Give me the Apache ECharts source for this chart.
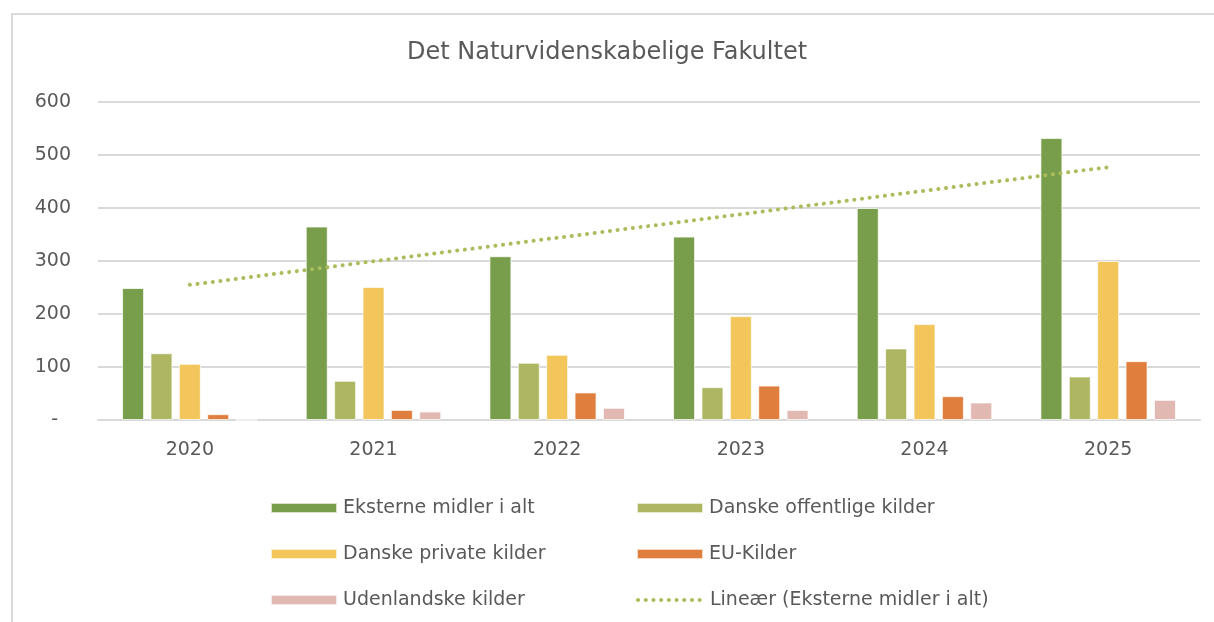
<!DOCTYPE html>
<html>
<head>
<meta charset="utf-8">
<script src="https://cdn.jsdelivr.net/npm/echarts@6/dist/echarts.min.js"></script>
<style>
html,body{margin:0;padding:0;background:#fff;}
#chart{width:1214px;height:622px;}
</style>
</head>
<body>
<div id="chart"></div>
<script>
const title = 'Det Naturvidenskabelige Fakultet';
const years = ['2020', '2021', '2022', '2023', '2024', '2025'];
const seriesNames = ['Eksterne midler i alt', 'Danske offentlige kilder', 'Danske private kilder', 'EU-Kilder', 'Udenlandske kilder'];
const eksterne = [249, 365, 309, 346, 400, 532];
const offentlige = [126, 74, 108, 62, 135, 82];
const private_ = [106, 251, 123, 196, 181, 300];
const eu = [11, 19, 52, 65, 45, 111];
const udenlandske = [0, 16, 23, 19, 33, 38];
const trendName = 'Lineær (Eksterne midler i alt)';
const trendEnds = [255, 477]; // at 2020 and 2025
const yTicks = [0, 100, 200, 300, 400, 500, 600];

const colors = ['#799e4b', '#aeb662', '#f2c65b', '#e07f3d', '#e1b8b2'];
const trendColor = '#a9bd5c';
const textColor = '#595959';
const font = 'DejaVu Sans';

const values = [eksterne, offentlige, private_, eu, udenlandske];
const trendData = years.map((y, i) => i === 0 ? trendEnds[0] : (i === years.length - 1 ? trendEnds[1] : null));

const barSeries = seriesNames.map((n, i) => ({
  name: n,
  type: 'bar',
  data: values[i],
  barWidth: 22,
  barGap: '29%',
  itemStyle: { color: colors[i], borderColor: 'rgba(255,255,255,0.7)', borderWidth: 1 },
  emphasis: { disabled: true },
  silent: true
}));

const trendLineStyle = { color: trendColor, width: 4, type: [0.1, 7.6], cap: 'round' };
const lineSeries = {
  name: trendName,
  type: 'line',
  data: trendData,
  connectNulls: true,
  symbol: 'none',
  showSymbol: false,
  lineStyle: trendLineStyle,
  itemStyle: { color: trendColor },
  z: 5,
  silent: true
};

// legend layout: two columns, three rows
const legendOrder = [seriesNames[0], seriesNames[1], seriesNames[2], seriesNames[3], seriesNames[4], trendName];
const colX = [265, 631];
const rowY = [493, 539, 585];
const legends = legendOrder.map((n, i) => {
  const l = {
    data: [n === trendName ? { name: n, itemStyle: { opacity: 0 } } : { name: n, icon: 'rect' }],
    left: colX[i % 2],
    top: rowY[Math.floor(i / 2)],
    itemWidth: 66,
    itemHeight: 10,
    itemGap: 0,
    selectedMode: false,
    textStyle: { color: textColor, fontFamily: font, fontSize: 19, lineHeight: 20, padding: [0, 0, 0, 1] }
  };
  if (n === trendName) l.lineStyle = trendLineStyle;
  return l;
});

const chart = echarts.init(document.getElementById('chart'), null, { renderer: 'canvas' });
chart.setOption({
  animation: false,
  backgroundColor: '#fff',
  title: {
    text: title,
    left: 'center',
    top: 36,
    textStyle: { color: textColor, fontFamily: font, fontSize: 24, fontWeight: 'normal' }
  },
  graphic: [{
    type: 'polyline',
    shape: { points: [[12, 640], [12, 14], [1230, 14]] },
    style: { fill: null, stroke: '#d9d9d9', lineWidth: 2 },
    silent: true,
    z: -1
  }],
  legend: legends,
  grid: { left: 98, right: 14, top: 102, bottom: 202, containLabel: false },
  xAxis: {
    type: 'category',
    data: years,
    axisLine: { show: true, lineStyle: { color: '#d9d9d9', width: 2 } },
    axisTick: { show: false },
    axisLabel: { color: textColor, fontFamily: font, fontSize: 19, margin: 21 }
  },
  yAxis: {
    type: 'value',
    min: yTicks[0],
    max: yTicks[yTicks.length - 1],
    interval: 100,
    axisLine: { show: false },
    axisTick: { show: false },
    splitLine: { lineStyle: { color: '#d9d9d9', width: 2 } },
    axisLabel: {
      color: textColor, fontFamily: font, fontSize: 19, margin: 27,
      formatter: v => v === 0 ? '{d|-}' : String(v),
      rich: { d: { color: textColor, fontFamily: font, fontSize: 19, padding: [0, 13, 0, 0] } }
    }
  },
  series: [...barSeries, lineSeries]
});
</script>
</body>
</html>
